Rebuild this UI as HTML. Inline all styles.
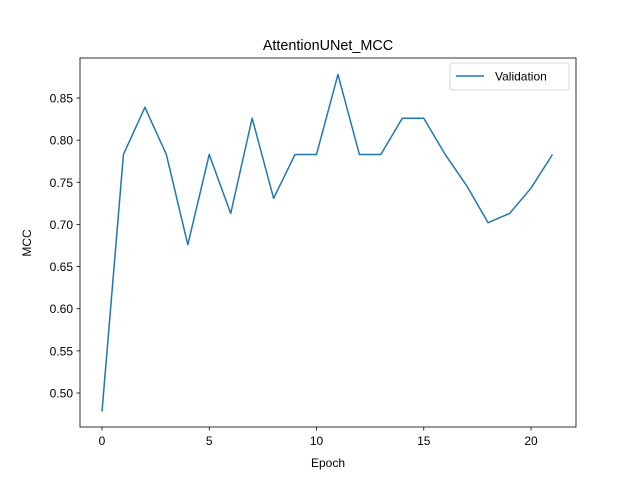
<!DOCTYPE html>
<html><head><meta charset="utf-8"><style>
body{margin:0;background:#fff}
svg text{font-family:"Liberation Sans","DejaVu Sans",sans-serif;fill:#000}
</style></head><body>
<svg id="chart" width="640" height="480" xmlns="http://www.w3.org/2000/svg">
<rect width="640" height="480" fill="#fff"/>
<text x="328" y="50" font-size="14.4" text-anchor="middle">AttentionUNet_MCC</text>
<g id="plot"></g>
<rect x="80" y="58" width="496" height="369" fill="none" stroke="#000" stroke-width="0.8"/>
<text x="328" y="467" font-size="12" text-anchor="middle">Epoch</text>
<text transform="translate(31,243) rotate(-90)" font-size="12" text-anchor="middle">MCC</text>
<g>
<rect x="450" y="63" width="119" height="27" rx="2" fill="#fff" stroke="#ccc" stroke-width="0.8"/>
<line x1="456" y1="76" x2="484" y2="76" stroke="#1f77b4" stroke-width="1.5"/>
<text x="495" y="80.5" font-size="12">Validation</text>
</g>
</svg>
<script>
const epochs=[0,1,2,3,4,5,6,7,8,9,10,11,12,13,14,15,16,17,18,19,20,21];
const validation=[0.478,0.783,0.839,0.783,0.676,0.783,0.713,0.826,0.731,0.783,0.783,0.878,0.783,0.783,0.826,0.826,0.783,0.746,0.702,0.713,0.743,0.783];
const xTicks=[0,5,10,15,20];
const yTicks=[0.50,0.55,0.60,0.65,0.70,0.75,0.80,0.85];
const X=v=>102+(v-0)*(531-102)/20;
const Y=v=>393-(v-0.5)*(393-98)/0.35;
const g=document.getElementById('plot');
const NS='http://www.w3.org/2000/svg';
function mk(t,a){const e=document.createElementNS(NS,t);for(const k in a)e.setAttribute(k,a[k]);g.appendChild(e);return e;}
xTicks.forEach(t=>{
 const l=mk('line',{x1:X(t),x2:X(t),y1:427,y2:430.5,stroke:'#000','stroke-width':0.8});
 
 
 const s=mk('text',{x:X(t),y:445,'font-size':12,'text-anchor':'middle'});s.textContent=t;
 
 
});
yTicks.forEach(t=>{
 const l=mk('line',{x1:76.5,x2:80,y1:Y(t),y2:Y(t),stroke:'#000','stroke-width':0.8});
 
 
 const s=mk('text',{x:73,y:Y(t)+4.5,'font-size':12,'text-anchor':'end'});s.textContent=t.toFixed(2);
 
 
});
const p=mk('polyline',{points:epochs.map((e,i)=>X(e)+','+Y(validation[i])).join(' '),fill:'none',stroke:'#1f77b4','stroke-width':1.5,'stroke-linejoin':'round'});


</script>
</body></html>
